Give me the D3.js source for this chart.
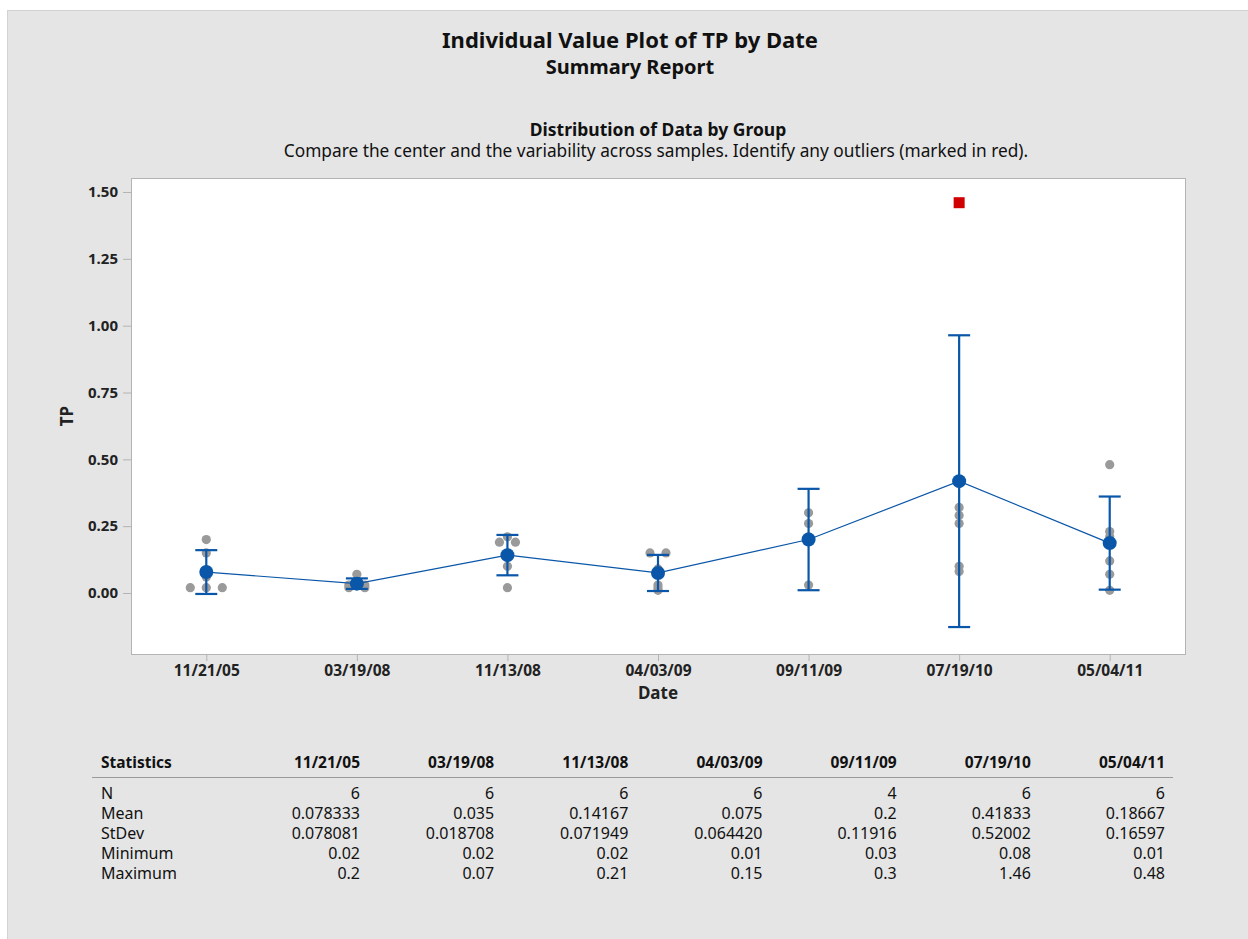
<!DOCTYPE html>
<html>
<head>
<meta charset="utf-8">
<script src="https://cdn.jsdelivr.net/npm/d3@7"></script>
<style>
  body { margin: 0; background: #fff; }
  svg { display: block; font-family: "Noto Sans", "Open Sans", sans-serif; }
</style>
</head>
<body>
<div id="chart"></div>
<script>
// individual value plot, Minitab style summary report

var dates = ['11/21/05', '03/19/08', '11/13/08', '04/03/09', '09/11/09', '07/19/10', '05/04/11'];
var values = [
  [0.02, 0.02, 0.02, 0.06, 0.15, 0.20],
  [0.02, 0.02, 0.03, 0.03, 0.04, 0.07],
  [0.02, 0.10, 0.14, 0.19, 0.19, 0.21],
  [0.01, 0.02, 0.03, 0.09, 0.15, 0.15],
  [0.03, 0.21, 0.26, 0.30],
  [0.08, 0.10, 0.26, 0.29, 0.32, 1.46],
  [0.01, 0.07, 0.12, 0.21, 0.23, 0.48]
];
var outliers = [[], [], [], [], [], [1.46], []];
var tCrit = { 3: 3.182446, 5: 2.570582 };   // 95% CI for the mean
var yTicks = [0, 0.25, 0.5, 0.75, 1.0, 1.25, 1.5];

var statNames = ['N', 'Mean', 'StDev', 'Minimum', 'Maximum'];
var statN = ['6', '6', '6', '6', '4', '6', '6'];
var statMean = ['0.078333', '0.035', '0.14167', '0.075', '0.2', '0.41833', '0.18667'];
var statSd = ['0.078081', '0.018708', '0.071949', '0.064420', '0.11916', '0.52002', '0.16597'];
var statMin = ['0.02', '0.02', '0.02', '0.01', '0.03', '0.08', '0.01'];
var statMax = ['0.2', '0.07', '0.21', '0.15', '0.3', '1.46', '0.48'];

var W = 1248, H = 939;
var blue = '#0a56a8';
var svg = d3.select('#chart').append('svg').attr('width', W).attr('height', H);

svg.append('rect').attr('x', 7.5).attr('y', 10.5).attr('width', W).attr('height', H)
  .attr('fill', '#e5e5e5').attr('stroke', '#d2d2d2');

// titles
svg.append('text').attr('x', 630).attr('y', 48).attr('text-anchor', 'middle')
  .attr('font-size', 22).attr('font-weight', 'bold').attr('fill', '#111')
  .text('Individual Value Plot of TP by Date');
svg.append('text').attr('x', 630).attr('y', 74).attr('text-anchor', 'middle')
  .attr('font-size', 20).attr('font-weight', 'bold').attr('fill', '#111')
  .text('Summary Report');
svg.append('text').attr('x', 658).attr('y', 136).attr('text-anchor', 'middle')
  .attr('font-size', 17.5).attr('font-weight', 'bold').attr('fill', '#111')
  .text('Distribution of Data by Group');
svg.append('text').attr('x', 656).attr('y', 157).attr('text-anchor', 'middle')
  .attr('font-size', 17.3).attr('fill', '#111')
  .text('Compare the center and the variability across samples. Identify any outliers (marked in red).');

var m = { left: 131, right: 1185, top: 178, bottom: 654 };
var x = d3.scalePoint().domain(dates).range([m.left, m.right]).padding(0.5);
var y = d3.scaleLinear().domain([-0.2282, 1.5524]).range([m.bottom, m.top]);

svg.append('rect').attr('x', m.left + 0.5).attr('y', m.top + 0.5)
  .attr('width', m.right - m.left).attr('height', m.bottom - m.top)
  .attr('fill', '#fff').attr('stroke', '#b4b4b4');

var yAxis = svg.append('g').attr('transform', 'translate(' + m.left + ',0)')
  .call(d3.axisLeft(y).tickValues(yTicks).tickFormat(d3.format('.2f')).tickSize(8).tickPadding(5));
var xAxis = svg.append('g').attr('transform', 'translate(0,' + (m.bottom + 1) + ')')
  .call(d3.axisBottom(x).tickSize(6).tickPadding(4));
[yAxis, xAxis].forEach(function(a) {
  a.select('.domain').remove();
  a.selectAll('line').attr('stroke', '#b4b4b4');
  a.selectAll('text').attr('font-size', 15.5).attr('font-weight', 'bold').attr('fill', '#222')
    .attr('font-family', '"Noto Sans", sans-serif');
});
yAxis.selectAll('text').attr('font-size', 15);

svg.append('text').attr('transform', 'translate(73,' + ((m.top + m.bottom) / 2) + ') rotate(-90)')
  .attr('text-anchor', 'middle').attr('font-size', 17).attr('font-weight', 'bold').attr('fill', '#222')
  .text('TP');
svg.append('text').attr('x', (m.left + m.right) / 2).attr('y', 699).attr('text-anchor', 'middle')
  .attr('font-size', 17).attr('font-weight', 'bold').attr('fill', '#222')
  .text('Date');

// group summaries
var groups = dates.map(function(d, i) {
  var v = values[i];
  var mean = d3.mean(v), sd = d3.deviation(v), n = v.length;
  var half = tCrit[n - 1] * sd / Math.sqrt(n);
  return { date: d, vals: v, mean: mean, lo: mean - half, hi: mean + half, out: outliers[i] };
});

// individual points, equal values spread sideways
var pts = [];
groups.forEach(function(g) {
  var counts = d3.rollup(g.vals, function(a) { return a.length; }, function(v) { return v; });
  var seen = new Map();
  g.vals.forEach(function(v) {
    var k = seen.get(v) || 0; seen.set(v, k + 1);
    var off = (k - (counts.get(v) - 1) / 2) * 16;
    pts.push({ date: g.date, v: v, off: off, out: g.out.indexOf(v) >= 0 });
  });
});

svg.selectAll('circle.pt').data(pts.filter(function(p) { return !p.out; })).enter()
  .append('circle').attr('class', 'pt')
  .attr('cx', function(p) { return x(p.date) + p.off; })
  .attr('cy', function(p) { return y(p.v); })
  .attr('r', 4.6).attr('fill', '#9a9a9a');

svg.selectAll('rect.out').data(pts.filter(function(p) { return p.out; })).enter()
  .append('rect').attr('class', 'out')
  .attr('x', function(p) { return x(p.date) + p.off - 5.5; })
  .attr('y', function(p) { return y(p.v) - 5.5; })
  .attr('width', 11).attr('height', 11).attr('fill', '#d00000');

// confidence intervals
var ci = svg.append('g').attr('stroke', blue).attr('stroke-width', 2.2).attr('fill', 'none');
groups.forEach(function(g) {
  var cx = x(g.date);
  ci.append('line').attr('x1', cx).attr('x2', cx).attr('y1', y(g.lo)).attr('y2', y(g.hi));
  ci.append('line').attr('x1', cx - 11).attr('x2', cx + 11).attr('y1', y(g.lo)).attr('y2', y(g.lo));
  ci.append('line').attr('x1', cx - 11).attr('x2', cx + 11).attr('y1', y(g.hi)).attr('y2', y(g.hi));
});

svg.append('path').datum(groups)
  .attr('d', d3.line().x(function(g) { return x(g.date); }).y(function(g) { return y(g.mean); }))
  .attr('fill', 'none').attr('stroke', blue).attr('stroke-width', 1.2);

svg.selectAll('circle.mean').data(groups).enter()
  .append('circle').attr('class', 'mean')
  .attr('cx', function(g) { return x(g.date); })
  .attr('cy', function(g) { return y(g.mean); })
  .attr('r', 7).attr('fill', blue);

// statistics table
var colRight = d3.scaleLinear().domain([0, 6]).range([360, 1165]);
var tbl = svg.append('g').attr('fill', '#111').attr('font-size', 16);
tbl.append('text').attr('x', 101).attr('y', 768).attr('font-weight', 'bold').attr('font-size', 15.5)
  .text('Statistics');
dates.forEach(function(d, i) {
  tbl.append('text').attr('x', colRight(i)).attr('y', 768).attr('text-anchor', 'end')
    .attr('font-weight', 'bold').attr('font-size', 15.5).text(d);
});
tbl.append('line').attr('x1', 92).attr('x2', 1173).attr('y1', 777.5).attr('y2', 777.5)
  .attr('stroke', '#9a9a9a');
var rows = [statN, statMean, statSd, statMin, statMax];
rows.forEach(function(r, j) {
  var yy = 799 + j * 20;
  tbl.append('text').attr('x', 101).attr('y', yy).text(statNames[j]);
  r.forEach(function(s, i) {
    tbl.append('text').attr('x', colRight(i)).attr('y', yy).attr('text-anchor', 'end').text(s);
  });
});
</script>
</body>
</html>
